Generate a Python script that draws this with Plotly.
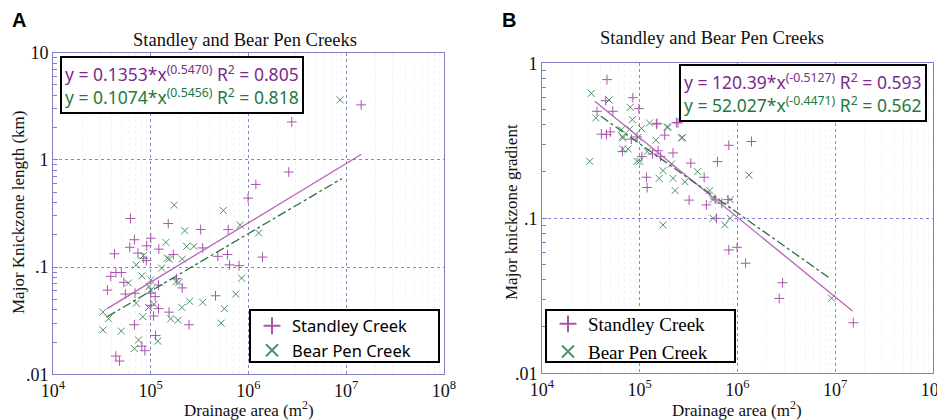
import plotly.graph_objects as go
from plotly.subplots import make_subplots

# ---- Panel A: knickzone length (km) vs drainage area (m2) ----
sc_area_a = [1.42e7, 2.77e6, 2.58e6, 1.19e6, 0.99e6, 6.2e4, 1.51e5, 3.24e5, 6.2e5, 6.8e4,
             1.0e5, 6.1e4, 9.1e4, 1.21e5, 7.4e4, 4.25e4, 8.4e4, 9.0e4, 1.7e5, 3.4e5,
             4.85e5, 6.1e5, 1.39e6, 6.4e5, 8.0e5, 3.9e4, 4.4e4, 5.0e4, 5.3e4, 3.6e4,
             5.5e4, 6.9e4, 1.0e5, 1.11e5, 1.2e5, 1.83e5, 2.1e5, 4.6e5, 1.2e5, 1.54e5,
             1.0e5, 1.07e5, 6.8e4, 2.46e5, 8.1e4, 8.7e4, 1.12e5, 4.4e4, 4.8e4]
sc_len_a = [3.26, 2.26, 0.77, 0.59, 0.44, 0.284, 0.255, 0.224, 0.224, 0.18,
            0.186, 0.153, 0.158, 0.147, 0.135, 0.133, 0.121, 0.115, 0.131, 0.151,
            0.126, 0.131, 0.124, 0.105, 0.103, 0.082, 0.089, 0.089, 0.072, 0.061,
            0.056, 0.057, 0.057, 0.053, 0.068, 0.078, 0.064, 0.054, 0.041, 0.038,
            0.044, 0.035, 0.029, 0.029, 0.0183, 0.0166, 0.023, 0.0148, 0.0133]

bp_area_a = [8.67e6, 1.74e5, 5.53e5, 8.2e5, 2.23e5, 1.27e6, 1.43e5, 2.33e5, 2.76e5, 8.4e4,
             1.48e5, 1.55e5, 2.1e5, 7.1e4, 1.29e5, 8.1e4, 1.0e5, 5.9e4, 1.82e5, 1.94e5,
             8.5e5, 9.6e4, 1.0e5, 7.4e5, 2.5e5, 3.4e5, 7.1e4, 9.5e4, 1.08e5, 2.08e5,
             5.66e5, 3.24e4, 3.7e4, 8.3e4, 1.6e5, 1.9e5, 5.25e5, 3.24e4, 5.0e4, 7.5e4,
             6.8e4, 1.18e5]
bp_len_a = [3.63, 0.379, 0.337, 0.246, 0.219, 0.208, 0.170, 0.156, 0.156, 0.128,
            0.121, 0.119, 0.119, 0.105, 0.098, 0.083, 0.076, 0.071, 0.073, 0.072,
            0.079, 0.066, 0.061, 0.056, 0.048, 0.047, 0.046, 0.042, 0.045, 0.042,
            0.041, 0.038, 0.033, 0.0345, 0.033, 0.032, 0.030, 0.0259, 0.0253, 0.0209,
            0.0174, 0.0204]

# power-law fit lines, end points
sc_fit_a_x = [3.58e4, 1.43e7]
sc_fit_a_y = [0.041, 1.13]
bp_fit_a_x = [3.6e4, 8.97e6]
bp_fit_a_y = [0.0345, 0.668]

# ---- Panel B: knickzone gradient vs drainage area (m2) ----
sc_area_b = [1.53e7, 2.89e6, 2.67e6, 1.21e6, 0.99e6, 8.15e5, 1.39e6, 8.15e5, 6.24e5, 3.33e5,
             4.56e5, 2.19e5, 1.8e5, 1.17e5, 1.19e5, 3.2e5, 4.8e5, 5.9e5, 6.9e5, 8.0e5,
             6.1e5, 1.54e5, 1.63e5, 4.05e4, 5.0e4, 6.65e4, 8.2e4, 9.4e4, 1.48e5, 2.37e5,
             1.05e5, 1.35e5, 4.62e4, 8.5e4, 4.49e4, 9.8e4, 3.65e4, 5.3e4, 1.5e5, 2.46e5,
             4.57e4]
sc_grad_b = [0.0212, 0.0384, 0.0304, 0.0513, 0.065, 0.0625, 0.313, 0.296, 0.232, 0.227,
             0.184, 0.264, 0.344, 0.184, 0.158, 0.131, 0.122, 0.133, 0.125, 0.132,
             0.1, 0.273, 0.25, 0.349, 0.361, 0.27, 0.324, 0.335, 0.405, 0.415,
             0.25, 0.26, 0.785, 0.60, 0.574, 0.51, 0.49, 0.49, 0.41, 0.412,
             0.347]

bp_area_b = [9.2e6, 1.31e6, 8.4e5, 5.63e5, 5.2e5, 3.9e5, 2.9e5, 2.19e5, 2.3e5, 1.58e5,
             1.73e5, 3.08e4, 9.4e4, 1.0e5, 1.19e5, 2.11e5, 2.74e5, 1.9e5, 1.46e5, 6.7e4,
             6.7e4, 7.6e4, 9.6e4, 8.4e5, 5.63e5, 7.4e5, 1.73e5, 7.9e4, 3.2e4, 4.85e4,
             8.0e4, 3.55e4, 8.4e4, 1.26e5, 1.95e5, 1.04e5, 6.5e4, 6.7e4, 2.67e5]
bp_grad_b = [0.0305, 0.19, 0.132, 0.132, 0.151, 0.2, 0.172, 0.181, 0.151, 0.181,
             0.203, 0.233, 0.233, 0.233, 0.27, 0.224, 0.332, 0.389, 0.319, 0.337,
             0.28, 0.28, 0.333, 0.1, 0.1, 0.0906, 0.0906, 0.376, 0.64, 0.58,
             0.52, 0.444, 0.433, 0.412, 0.386, 0.38, 0.373, 0.33, 0.33]

sc_fit_b_x = [3.47e4, 1.5e7]
sc_fit_b_y = [0.57, 0.0252]
bp_fit_b_x = [4.0e4, 8.5e6]
bp_fit_b_y = [0.455, 0.0417]

x_tickvals = [1e4, 1e5, 1e6, 1e7, 1e8]
x_ticktext = ['10<sup>4</sup>', '10<sup>5</sup>', '10<sup>6</sup>', '10<sup>7</sup>', '10<sup>8</sup>']
ya_tickvals = [0.01, 0.1, 1, 10]
ya_ticktext = ['.01', '.1', '1', '10']
yb_tickvals = [0.01, 0.1, 1]
yb_ticktext = ['.01', '.1', '1']

PURPLE_PT = '#a855aa'
GREEN_PT = '#4f9068'
PURPLE_LN = '#b863b8'
GREEN_LN = '#2c6e46'
PURPLE_TXT = '#7a2a8c'
GREEN_TXT = '#1d7a3e'
FRAME = '#7f80c8'
GRID = '#8487d0'
SERIF = 'Liberation Serif, Times New Roman, serif'
SANS = 'Noto Sans, Open Sans, sans-serif'

W, H = 945, 420
OFF = 8  # the page body adds an 8px margin, so layout positions are shifted back by it


def px(x):
    return (x - OFF) / W


def py(y):
    return 1 - (y - OFF) / H


# minor tick positions (2..9 in each decade)
minor_x = [m * 10 ** d for d in range(4, 8) for m in range(2, 10)]
minor_y = [m * 10.0 ** d for d in range(-2, 2) for m in range(2, 10)]

fig = make_subplots(rows=1, cols=2)


def scatter(x, y, name, symbol, color, legend, col):
    fig.add_trace(go.Scatter(
        x=x, y=y, mode='markers', name=name, legend=legend,
        marker=dict(symbol=symbol, size=7, color=color, line=dict(color=color, width=1)),
    ), row=1, col=col)


def fitline(x, y, color, dash, col):
    fig.add_trace(go.Scatter(
        x=x, y=y, mode='lines', showlegend=False, hoverinfo='skip',
        line=dict(color=color, width=1.3, dash=dash),
    ), row=1, col=col)


scatter(sc_area_a, sc_len_a, 'Standley Creek', 'cross-thin', PURPLE_PT, 'legend', 1)
scatter(bp_area_a, bp_len_a, 'Bear Pen Creek', 'x-thin', GREEN_PT, 'legend', 1)
fitline(sc_fit_a_x, sc_fit_a_y, PURPLE_LN, 'solid', 1)
fitline(bp_fit_a_x, bp_fit_a_y, GREEN_LN, 'dashdot', 1)

scatter(sc_area_b, sc_grad_b, 'Standley Creek', 'cross-thin', PURPLE_PT, 'legend2', 2)
scatter(bp_area_b, bp_grad_b, 'Bear Pen Creek', 'x-thin', GREEN_PT, 'legend2', 2)
fitline(sc_fit_b_x, sc_fit_b_y, PURPLE_LN, 'solid', 2)
fitline(bp_fit_b_x, bp_fit_b_y, GREEN_LN, 'dashdot', 2)

axis_common = dict(
    type='log', showline=True, linecolor=FRAME, linewidth=1, mirror=True,
    showgrid=True, gridcolor=GRID, griddash='dot', gridwidth=1, automargin=False,
    zeroline=False, tickfont=dict(family=SERIF, size=18, color='#111111'),
)

fig.update_xaxes(axis_common, range=[4, 8], tickvals=x_tickvals, ticktext=x_ticktext,
                 ticks='', minor=dict(tickvals=minor_x, showgrid=True, gridcolor='#f1f1f8', ticks=''))
fig.update_yaxes(axis_common, ticks='inside', ticklen=5, tickcolor=FRAME,
                 minor=dict(tickvals=minor_y, ticks='inside', ticklen=4, tickcolor=FRAME, showgrid=False))

fig.update_xaxes(domain=[px(53), px(444)], row=1, col=1)
fig.update_xaxes(domain=[px(542), px(933)], row=1, col=2)
fig.update_yaxes(domain=[py(374.3), py(52.7)], range=[-2, 1],
                 tickvals=ya_tickvals, ticktext=ya_ticktext, row=1, col=1)
fig.update_yaxes(domain=[py(373.3), py(63.3)], range=[-2, 0],
                 tickvals=yb_tickvals, ticktext=yb_ticktext, row=1, col=2)

# legend frames drawn as shapes, legends sit inside them without a border
legend_boxes = [(250, 310, 439, 362), (546, 310, 735, 362)]
for x0, y0, x1, y1 in legend_boxes:
    fig.add_shape(type='rect', xref='paper', yref='paper', x0=px(x0), x1=px(x1), y0=py(y1), y1=py(y0),
                  line=dict(color='black', width=2), fillcolor='white', layer='above')

legend_style = dict(bgcolor='rgba(0,0,0,0)', borderwidth=0, xanchor='left',
                    yanchor='middle', y=py(338), itemsizing='constant', tracegroupgap=0)

fig.update_layout(
    width=W, height=H,
    margin=dict(l=0, r=0, t=0, b=0),
    plot_bgcolor='white', paper_bgcolor='white',
    legend=dict(legend_style, x=px(252), font=dict(family=SANS, size=16.5, color='black')),
    legend2=dict(legend_style, x=px(548), font=dict(family=SERIF, size=19, color='black')),
)


def note(xp, yp, text, font, **kw):
    fig.add_annotation(x=px(xp), y=py(yp), xref='paper', yref='paper', text=text,
                       showarrow=False, font=font, **kw)


# panel letters, titles, axis titles
note(10, 20, '<b>A</b>', dict(family='Liberation Sans, Arial', size=20, color='black'),
     xanchor='left', yanchor='middle')
note(500, 20, '<b>B</b>', dict(family='Liberation Sans, Arial', size=20, color='black'),
     xanchor='left', yanchor='middle')
for xc, yc in [(245, 40), (712, 38)]:
    note(xc, yc, 'Standley and Bear Pen Creeks', dict(family=SERIF, size=18.5, color='#111111'),
         xanchor='center', yanchor='middle')
for xc in [249, 737]:
    note(xc, 409, 'Drainage area (m<sup>2</sup>)', dict(family=SERIF, size=17, color='#111111'),
         xanchor='center', yanchor='middle')
note(18, 213, 'Major Knickzone length (km)', dict(family=SERIF, size=17, color='#111111'),
     textangle=-90, xanchor='center', yanchor='middle')
note(511, 212, 'Major knickzone gradient', dict(family=SERIF, size=17, color='#111111'),
     textangle=-90, xanchor='center', yanchor='middle')

# regression equation boxes
eq_a = ('<span style="color:%s">y = 0.1353*x<sup>(0.5470)</sup> R<sup>2</sup> = 0.805</span><br>'
        '<span style="color:%s">y = 0.1074*x<sup>(0.5456)</sup> R<sup>2</sup> = 0.818</span>') % (PURPLE_TXT, GREEN_TXT)
eq_b = ('<span style="color:%s">y = 120.39*x<sup>(-0.5127)</sup> R<sup>2</sup> = 0.593</span><br>'
        '<span style="color:%s">y = 52.027*x<sup>(-0.4471)</sup> R<sup>2</sup> = 0.562</span>') % (PURPLE_TXT, GREEN_TXT)
note(60, 56, eq_a, dict(family=SANS, size=17.5), xanchor='left', yanchor='top', align='left',
     bordercolor='black', borderwidth=2, borderpad=3, bgcolor='white')
note(927, 64, eq_b, dict(family=SANS, size=17.5), xanchor='right', yanchor='top', align='left',
     bordercolor='black', borderwidth=2, borderpad=3, bgcolor='white')

fig.write_html('out.html')
